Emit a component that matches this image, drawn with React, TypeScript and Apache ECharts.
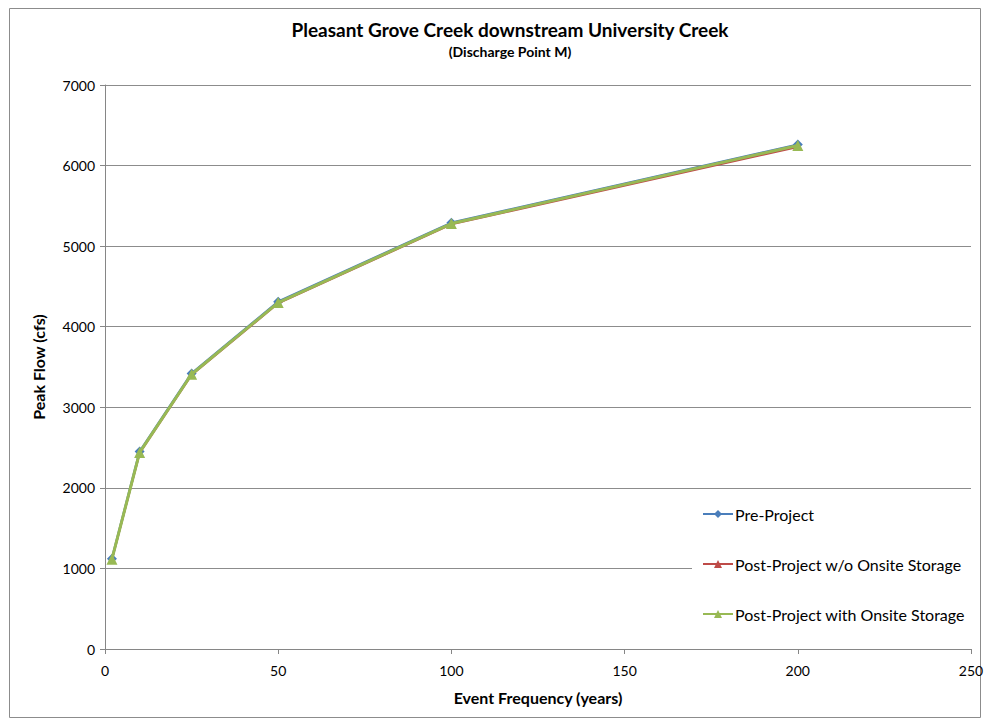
import React, { useEffect, useRef } from "react";
import * as echarts from "echarts";

// Return period of the storm event (years)
const eventYears = [2, 10, 25, 50, 100, 200];
// Peak flow (cfs) for each scenario
const preProject = [1120, 2450, 3420, 4310, 5290, 6260];
const postNoStorage = [1110, 2430, 3400, 4290, 5270, 6230];
const postWithStorage = [1115, 2440, 3410, 4300, 5280, 6250];

const seriesNames = [
  "Pre-Project",
  "Post-Project w/o Onsite Storage",
  "Post-Project with Onsite Storage",
];

const FONT = "Lato, 'Open Sans', sans-serif";

const pairs = (ys: number[]) => eventYears.map((x, i) => [x, ys[i]]);

export default function App() {
  const ref = useRef<HTMLDivElement>(null);

  useEffect(() => {
    if (!ref.current) return;
    const chart = echarts.init(ref.current, undefined, { renderer: "svg" });
    chart.setOption({
      animation: false,
      backgroundColor: "#ffffff",
      textStyle: { fontFamily: FONT },
      title: {
        text: "Pleasant Grove Creek downstream University Creek",
        subtext: "(Discharge Point M)",
        left: 505,
        textAlign: "center",
        top: 15,
        itemGap: 5,
        textStyle: { fontFamily: FONT, fontSize: 19, fontWeight: "bold", color: "#000" },
        subtextStyle: { fontFamily: FONT, fontSize: 14, fontWeight: "bold", color: "#000" },
      },
      graphic: [
        {
          type: "rect",
          shape: { x: 9.5, y: 8.5, width: 971, height: 709 },
          style: { fill: "none", stroke: "#8c8c8c", lineWidth: 1 },
          silent: true,
        },
      ],
      grid: { left: 105, right: 18, top: 85, bottom: 77 },
      legend: {
        orient: "vertical",
        left: 692,
        top: 496,
        itemGap: 34,
        itemWidth: 30,
        itemHeight: 10,
        padding: [10, 8, 10, 10],
        backgroundColor: "#ffffff",
        textStyle: { fontFamily: FONT, fontSize: 16, color: "#000", padding: [0, 0, 0, -3] },
        data: seriesNames,
      },
      xAxis: {
        type: "value",
        min: 0,
        max: 250,
        interval: 50,
        name: "Event Frequency (years)",
        nameLocation: "middle",
        nameGap: 40,
        nameTextStyle: { fontFamily: FONT, fontSize: 16, fontWeight: "bold", color: "#000" },
        axisLine: { lineStyle: { color: "#868686", width: 1 } },
        axisTick: { show: true, length: 5, lineStyle: { color: "#868686" } },
        axisLabel: { fontFamily: FONT, fontSize: 14, color: "#000", margin: 14 },
        splitLine: { show: false },
      },
      yAxis: {
        type: "value",
        min: 0,
        max: 7000,
        interval: 1000,
        name: "Peak Flow (cfs)",
        nameLocation: "middle",
        nameGap: 59,
        nameTextStyle: { fontFamily: FONT, fontSize: 16, fontWeight: "bold", color: "#000" },
        axisLine: { show: true, lineStyle: { color: "#868686", width: 1 } },
        axisTick: { show: true, length: 5, lineStyle: { color: "#868686" } },
        axisLabel: {
          fontFamily: FONT,
          fontSize: 14,
          color: "#000",
          margin: 10,
          formatter: (v: number) => String(v),
        },
        splitLine: { show: true, lineStyle: { color: "#8c8c8c", width: 1 } },
      },
      series: [
        {
          name: seriesNames[0],
          type: "line",
          data: pairs(preProject),
          symbol: "diamond",
          symbolSize: 10,
          lineStyle: { color: "#4a7ebb", width: 2.5 },
          itemStyle: { color: "#4a7ebb" },
          z: 2,
        },
        {
          name: seriesNames[1],
          type: "line",
          data: pairs(postNoStorage),
          symbol: "triangle",
          symbolSize: 6,
          lineStyle: { color: "#be4b48", width: 2 },
          itemStyle: { color: "#be4b48" },
          z: 3,
        },
        {
          name: seriesNames[2],
          type: "line",
          data: pairs(postWithStorage),
          symbol: "triangle",
          symbolSize: 11,
          lineStyle: { color: "#98b954", width: 3 },
          itemStyle: { color: "#98b954" },
          z: 4,
        },
      ],
    });
    return () => chart.dispose();
  }, []);

  return (
    <div
      ref={ref}
      style={{ position: "fixed", left: 0, top: 0, width: 989, height: 726 }}
    />
  );
}
